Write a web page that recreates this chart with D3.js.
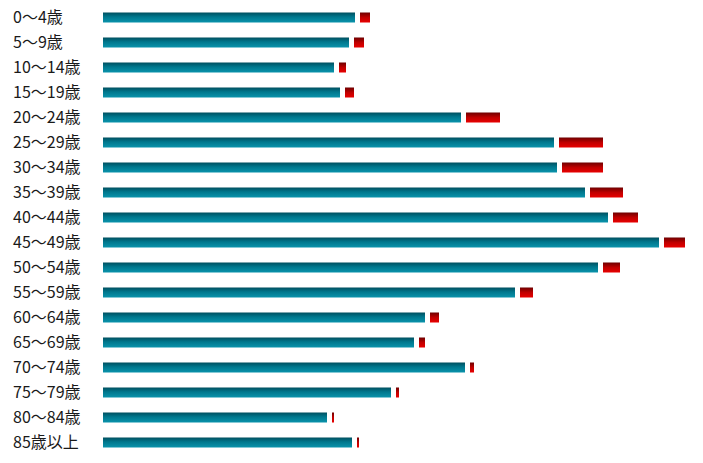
<!DOCTYPE html>
<html><head><meta charset="utf-8">
<script src="https://cdn.jsdelivr.net/npm/d3@7"></script>
<style>body{margin:0;background:#fff;}svg{display:block;}</style>
</head><body>
<svg id="c" width="703" height="463"></svg>
<script>
const categories = ["0〜4歳","5〜9歳","10〜14歳","15〜19歳","20〜24歳","25〜29歳","30〜34歳","35〜39歳","40〜44歳","45〜49歳","50〜54歳","55〜59歳","60〜64歳","65〜69歳","70〜74歳","75〜79歳","80〜84歳","85歳以上"];
const seriesA = [252,246,231,237,358,451,454,482,505,556,495,412,322,311,362,288,224,249];
const seriesB = [10,10,7,9,34,44,41,33,25,21,17,13,9,6,4,3,2,2];

const svg = d3.select("#c");
const defs = svg.append("defs");
const gA = defs.append("linearGradient").attr("id","gA").attr("x1",0).attr("y1",0).attr("x2",0).attr("y2",1);
gA.append("stop").attr("offset","0%").attr("stop-color","#004f5f");
gA.append("stop").attr("offset","45%").attr("stop-color","#00788e");
gA.append("stop").attr("offset","100%").attr("stop-color","#0a93ab");
const gB = defs.append("linearGradient").attr("id","gB").attr("x1",0).attr("y1",0).attr("x2",0).attr("y2",1);
gB.append("stop").attr("offset","0%").attr("stop-color","#6e0000");
gB.append("stop").attr("offset","50%").attr("stop-color","#c00000");
gB.append("stop").attr("offset","100%").attr("stop-color","#e80000");

const x0 = 103;
const x = d3.scaleLinear().domain([0,556]).range([0,556]);
const y = d3.scaleBand().domain(categories).range([5,455]).paddingInner(0.6).paddingOuter(0.3);

const rows = svg.selectAll("g.row").data(categories).join("g").attr("class","row");
rows.append("text")
  .attr("x",13).attr("y",(d)=>y(d)+y.bandwidth()/2+5.5)
  .attr("font-family","'Noto Sans CJK JP', sans-serif").attr("font-size",16)
  .attr("fill","#1a1a1a").text(d=>d);
rows.append("rect")
  .attr("x",x0).attr("y",d=>y(d)).attr("height",y.bandwidth())
  .attr("width",(d,i)=>x(seriesA[i])).attr("fill","url(#gA)");
rows.append("rect")
  .attr("x",(d,i)=>x0+x(seriesA[i])+5).attr("y",d=>y(d)).attr("height",y.bandwidth())
  .attr("width",(d,i)=>x(seriesB[i])).attr("fill","url(#gB)");
</script>
</body></html>
